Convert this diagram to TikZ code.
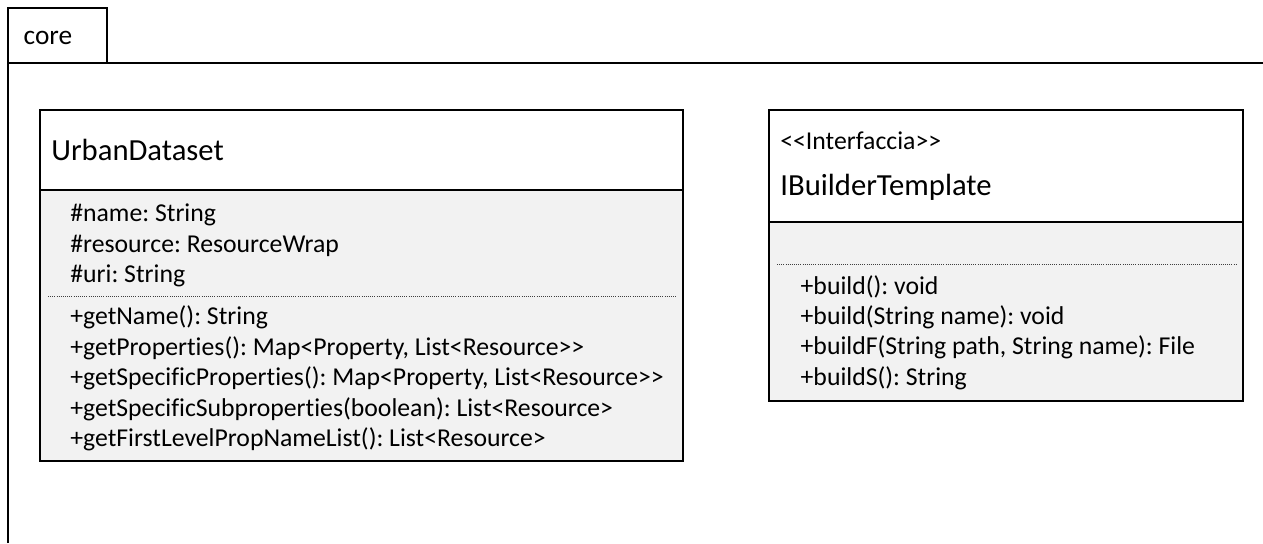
\documentclass[tikz,border=0pt]{standalone}
\usepackage{fontspec}
\usetikzlibrary{positioning, fit}

\newfontfamily\umlfont{Carlito}[Ligatures=NoCommon]
\newcommand{\umltitle}{\umlfont\fontsize{23}{28}\selectfont}
\newcommand{\umlmember}{\umlfont\fontsize{19.3}{22.8}\selectfont\frenchspacing}
\newcommand{\umltab}{\umlfont\fontsize{20.5}{24}\selectfont}
\definecolor{umlgray}{HTML}{F2F2F2}

\tikzset{
  classhead/.style={fill=white, font=\umltitle, align=left, inner xsep=8.5pt, inner ysep=0pt, outer sep=0pt},
  classbody/.style={fill=umlgray, inner sep=0pt, outer sep=0pt},
  members/.style={font=\umlmember, align=left, inner sep=0pt},
  classframe/.style={draw, inner sep=0pt, outer sep=0pt},
  sepline/.style={densely dotted, line width=0.6pt, black!75},
}

\begin{document}
\begin{tikzpicture}[line width=1.5pt]
  \useasboundingbox (0,0) rectangle (947.25pt,-407.25pt);

  % Package tab, then the frame running off to the right and bottom
  \node (core_tab) [draw, minimum width=74.25pt, minimum height=41.25pt, anchor=north west, outer sep=0pt] at (6pt,-6pt) {};
  \node (core_label) [font=\umltab, right=11pt of core_tab.west, yshift=-1.5pt, inner sep=0pt] {core};
  \coordinate (frame_right) at (947.25pt,-47.25pt);
  \coordinate (frame_bottom) at (6pt,-407.25pt);
  \draw (frame_bottom) -- (core_tab.south west) -- (frame_right);

  % UrbanDataset: name, attributes and operations stacked
  \node (urban_title) [classhead, text width=465.25pt, minimum height=60pt, anchor=north west] at (30pt,-82.5pt) {UrbanDataset};
  \node (urban_attrs) [classbody, minimum width=482.25pt, minimum height=79.5pt, below=0pt of urban_title] {};
  \node (urban_methods) [classbody, minimum width=482.25pt, minimum height=123.75pt, below=0pt of urban_attrs] {};
  \node (urban_attr_list) [members, right=22pt of urban_attrs.west, yshift=-2pt] {\#name: String\\ \#resource: ResourceWrap\\ \#uri: String};
  \node (urban_method_list) [members, right=22pt of urban_methods.west] {+getName(): String\\ +getProperties(): Map<Property, List<Resource>>\\ +getSpecificProperties(): Map<Property, List<Resource>>\\ +getSpecificSubproperties(boolean): List<Resource>\\ +getFirstLevelPropNameList(): List<Resource>};

  % Outline around the whole class, with the divider lines on top
  \node (urban_box) [classframe, fit=(urban_title) (urban_methods)] {};
  \draw (urban_title.south west) -- (urban_title.south east);
  \draw [sepline] ([xshift=6pt]urban_attrs.south west) -- ([xshift=-5pt]urban_attrs.south east);

  % IBuilderTemplate interface (no attributes)
  \node (builder_title) [classhead, text width=338.5pt, minimum height=84pt, anchor=north west] at (576.75pt,-82.5pt) {{\umlmember <<Interfaccia>>}\\[7pt] IBuilderTemplate};
  \node (builder_attrs) [classbody, minimum width=355.5pt, minimum height=31.5pt, below=0pt of builder_title] {};
  \node (builder_methods) [classbody, minimum width=355.5pt, minimum height=102.75pt, below=0pt of builder_attrs] {};
  \node (builder_method_list) [members, right=23pt of builder_methods.west] {+build(): void\\ +build(String name): void\\ +buildF(String path, String name): File\\ +buildS(): String};

  \node (builder_box) [classframe, fit=(builder_title) (builder_methods)] {};
  \draw (builder_title.south west) -- (builder_title.south east);
  \draw [sepline] ([xshift=6pt]builder_attrs.south west) -- ([xshift=-5pt]builder_attrs.south east);

\end{tikzpicture}
\end{document}
